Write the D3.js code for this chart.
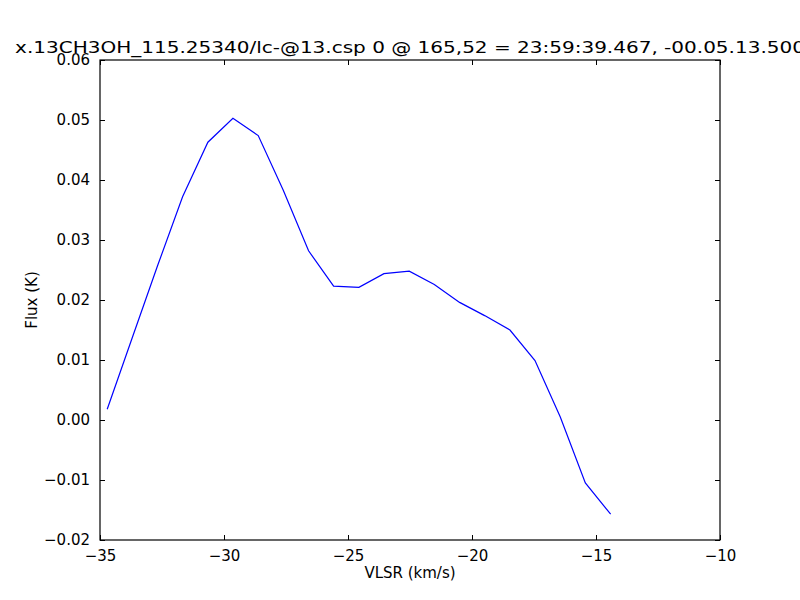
<!DOCTYPE html>
<html>
<head>
<meta charset="utf-8">
<script src="https://cdn.jsdelivr.net/npm/d3@7"></script>
<style>
  html, body { margin: 0; padding: 0; background: #fff; }
  svg { display: block; font-family: "DejaVu Sans", sans-serif; }
</style>
</head>
<body>
<svg id="chart" width="800" height="600"></svg>
<script>
const titleText = "x.13CH3OH_115.25340/lc-@13.csp 0 @ 165,52 = 23:59:39.467, -00.05.13.500";
const xLabel = "VLSR (km/s)";
const yLabel = "Flux (K)";
const velocity = [-34.71, -33.70, -32.68, -31.67, -30.65, -29.64, -28.62, -27.61, -26.59, -25.58,
                  -24.56, -23.55, -22.53, -21.52, -20.50, -19.49, -18.47, -17.46, -16.44, -15.43, -14.41];
const flux = [0.0018, 0.0137, 0.0257, 0.0372, 0.0463, 0.0503, 0.0474, 0.0383, 0.0282, 0.0223,
              0.0221, 0.0244, 0.0248, 0.0226, 0.0196, 0.0174, 0.0150, 0.0099, 0.0005, -0.0105, -0.0157];
const xTicks = [-35, -30, -25, -20, -15, -10];
const yTicks = [-0.02, -0.01, 0.00, 0.01, 0.02, 0.03, 0.04, 0.05, 0.06];

const svg = d3.select("#chart");
const m = {left: 100, top: 60, right: 80, bottom: 60};
const W = 800, H = 600;
const iw = W - m.left - m.right, ih = H - m.top - m.bottom;

const x = d3.scaleLinear().domain([-35, -10]).range([m.left, m.left + iw]);
const y = d3.scaleLinear().domain([-0.02, 0.06]).range([m.top + ih, m.top]);

const fmtY = d => d3.format(".2f")(d).replace("-", "\u2212");
const fmtX = d => d3.format("d")(d).replace("-", "\u2212");
const tl = 5;

// line
const line = d3.line().x((d, i) => x(velocity[i])).y(d => y(d));
svg.append("path").datum(flux).attr("d", line)
  .attr("fill", "none").attr("stroke", "#0000ff").attr("stroke-width", 1.2);

// axes (ticks inward on all sides)
const gBottom = svg.append("g").attr("transform", `translate(0,${m.top + ih})`)
  .call(d3.axisBottom(x).tickValues(xTicks).tickFormat(fmtX).tickSizeInner(-tl).tickSizeOuter(0).tickPadding(10));
const gTop = svg.append("g").attr("transform", `translate(0,${m.top})`)
  .call(d3.axisTop(x).tickValues(xTicks).tickFormat("").tickSizeInner(-tl).tickSizeOuter(0));
const gLeft = svg.append("g").attr("transform", `translate(${m.left},0)`)
  .call(d3.axisLeft(y).tickValues(yTicks).tickFormat(fmtY).tickSizeInner(-tl).tickSizeOuter(0).tickPadding(10));
const gRight = svg.append("g").attr("transform", `translate(${m.left + iw},0)`)
  .call(d3.axisRight(y).tickValues(yTicks).tickFormat("").tickSizeInner(-tl).tickSizeOuter(0));

[gBottom, gTop, gLeft, gRight].forEach(g => {
  g.select(".domain").remove();
  g.selectAll(".tick line").attr("stroke", "#000").attr("stroke-width", 1);
  g.selectAll("text").attr("fill", "#000").attr("font-size", 15).attr("font-family", "DejaVu Sans, sans-serif");
});

// frame
svg.append("rect").attr("x", m.left).attr("y", m.top).attr("width", iw).attr("height", ih)
  .attr("fill", "none").attr("stroke", "#000").attr("stroke-width", 1.2);

// title and labels
svg.append("text").attr("transform", `translate(${m.left + iw / 2},53) scale(1.25,1)`).attr("text-anchor", "middle")
  .attr("font-size", 16).attr("fill", "#000").text(titleText);
svg.append("text").attr("x", m.left + iw / 2).attr("y", 578).attr("text-anchor", "middle")
  .attr("font-size", 15).attr("fill", "#000").text(xLabel);
svg.append("text").attr("transform", `translate(37,${m.top + ih / 2}) rotate(-90)`).attr("text-anchor", "middle")
  .attr("font-size", 15).attr("fill", "#000").text(yLabel);
</script>
</body>
</html>
